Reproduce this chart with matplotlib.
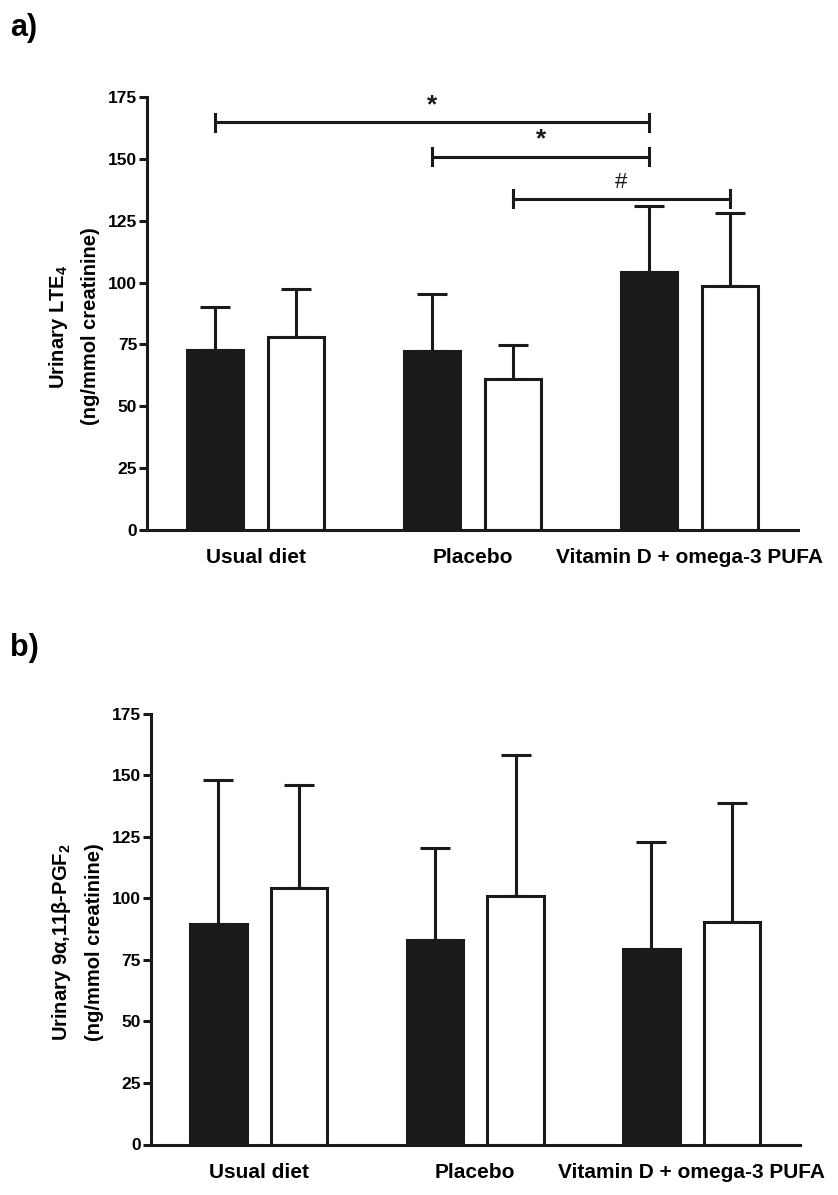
import numpy as np
import matplotlib
matplotlib.use('Agg')
import matplotlib.pyplot as plt

plt.rcParams['font.family'] = ['Liberation Sans', 'DejaVu Sans']
plt.rcParams['mathtext.default'] = 'regular'

groups = ['Usual diet', 'Placebo', 'Vitamin D + omega-3 PUFA']

# panel a) urinary LTE4, black = baseline, white = follow-up
lte4_black = [72.8, 72.5, 104.2]
lte4_black_sd = [17.3, 22.7, 26.6]
lte4_white = [78.2, 61.0, 98.8]
lte4_white_sd = [19.2, 13.6, 29.3]

# panel b) urinary 9a,11b-PGF2
pgf2_black = [89.5, 83.1, 79.3]
pgf2_black_sd = [58.7, 37.3, 43.6]
pgf2_white = [104.3, 101.1, 90.4]
pgf2_white_sd = [41.8, 56.9, 48.2]

# significance brackets for panel a): (series, group from, group to, y, mark)
sig_a = [('black', 0, 2, 164.8, '*'),
         ('black', 1, 2, 150.9, '*'),
         ('white', 1, 2, 133.9, '#')]

yticks = [0, 25, 50, 75, 100, 125, 150, 175]

dark = '#1a1a1a'
lw = 2.2
off = 0.186
width = 0.26

fig = plt.figure(figsize=(8.38, 11.95), dpi=100)
ax1 = fig.add_axes([147/838, 1-530/1195, 651/838, 433/1195])
ax2 = fig.add_axes([150.5/838, 1-1144.5/1195, 649.5/838, 431/1195])


def draw_panel(ax, blk, blk_sd, wht, wht_sd, ylab):
    x = np.arange(len(groups))
    ax.bar(x - off, blk, width, color=dark, edgecolor=dark, linewidth=lw, zorder=2)
    ax.bar(x + off, wht, width, color='white', edgecolor=dark, linewidth=lw, zorder=2)
    ax.errorbar(x - off, blk, yerr=[np.zeros(3), blk_sd], fmt='none', ecolor=dark,
                elinewidth=lw, capsize=10.5, capthick=lw, zorder=1)
    ax.errorbar(x + off, wht, yerr=[np.zeros(3), wht_sd], fmt='none', ecolor=dark,
                elinewidth=lw, capsize=10.5, capthick=lw, zorder=1)
    ax.set_xlim(-0.5, 2.5)
    ax.set_ylim(0, 175)
    ax.set_yticks(yticks)
    ax.set_xticks(x)
    ax.set_xticklabels(groups, fontsize=15, fontweight='bold')
    ax.tick_params(axis='x', length=0, pad=13)
    ax.tick_params(axis='y', length=6, width=lw, pad=1, labelsize=12.5, color=dark)
    for lab in ax.get_yticklabels():
        lab.set_fontweight('bold')
    for s in ['top', 'right']:
        ax.spines[s].set_visible(False)
    for s in ['left', 'bottom']:
        ax.spines[s].set_linewidth(lw)
        ax.spines[s].set_color(dark)
    ax.set_ylabel(ylab, fontsize=14.5, fontweight='bold', linespacing=1.75)
    ax.yaxis.set_label_coords(-0.072, 0.47)


draw_panel(ax1, lte4_black, lte4_black_sd, lte4_white, lte4_white_sd,
           'Urinary LTE$_4$\n(ng/mmol creatinine)')
draw_panel(ax2, pgf2_black, pgf2_black_sd, pgf2_white, pgf2_white_sd,
           'Urinary 9\u03b1,11\u03b2-PGF$_2$\n(ng/mmol creatinine)')

# brackets
for series, g0, g1, y, mark in sig_a:
    d = -off if series == 'black' else off
    x0, x1 = g0 + d, g1 + d
    ax1.plot([x0, x1], [y, y], color=dark, lw=lw, clip_on=False)
    ax1.plot([x0, x0], [y - 3.4, y + 3.4], color=dark, lw=lw, clip_on=False)
    ax1.plot([x1, x1], [y - 3.4, y + 3.4], color=dark, lw=lw, clip_on=False)
    if mark == '*':
        ax1.text((x0 + x1) / 2, y + 2.0, mark, ha='center', va='bottom', fontsize=19,
                 fontweight='bold', color=dark, clip_on=False)
    else:
        ax1.text((x0 + x1) / 2, y + 2.5, mark, ha='center', va='bottom', fontsize=16,
                 color=dark, clip_on=False)

fig.text(10/838, 1-28/1195, 'a)', fontsize=22, fontweight='bold', va='center', ha='left')
fig.text(10/838, 1-648/1195, 'b)', fontsize=22, fontweight='bold', va='center', ha='left')

fig.savefig('out.png', dpi=100, facecolor='white')
